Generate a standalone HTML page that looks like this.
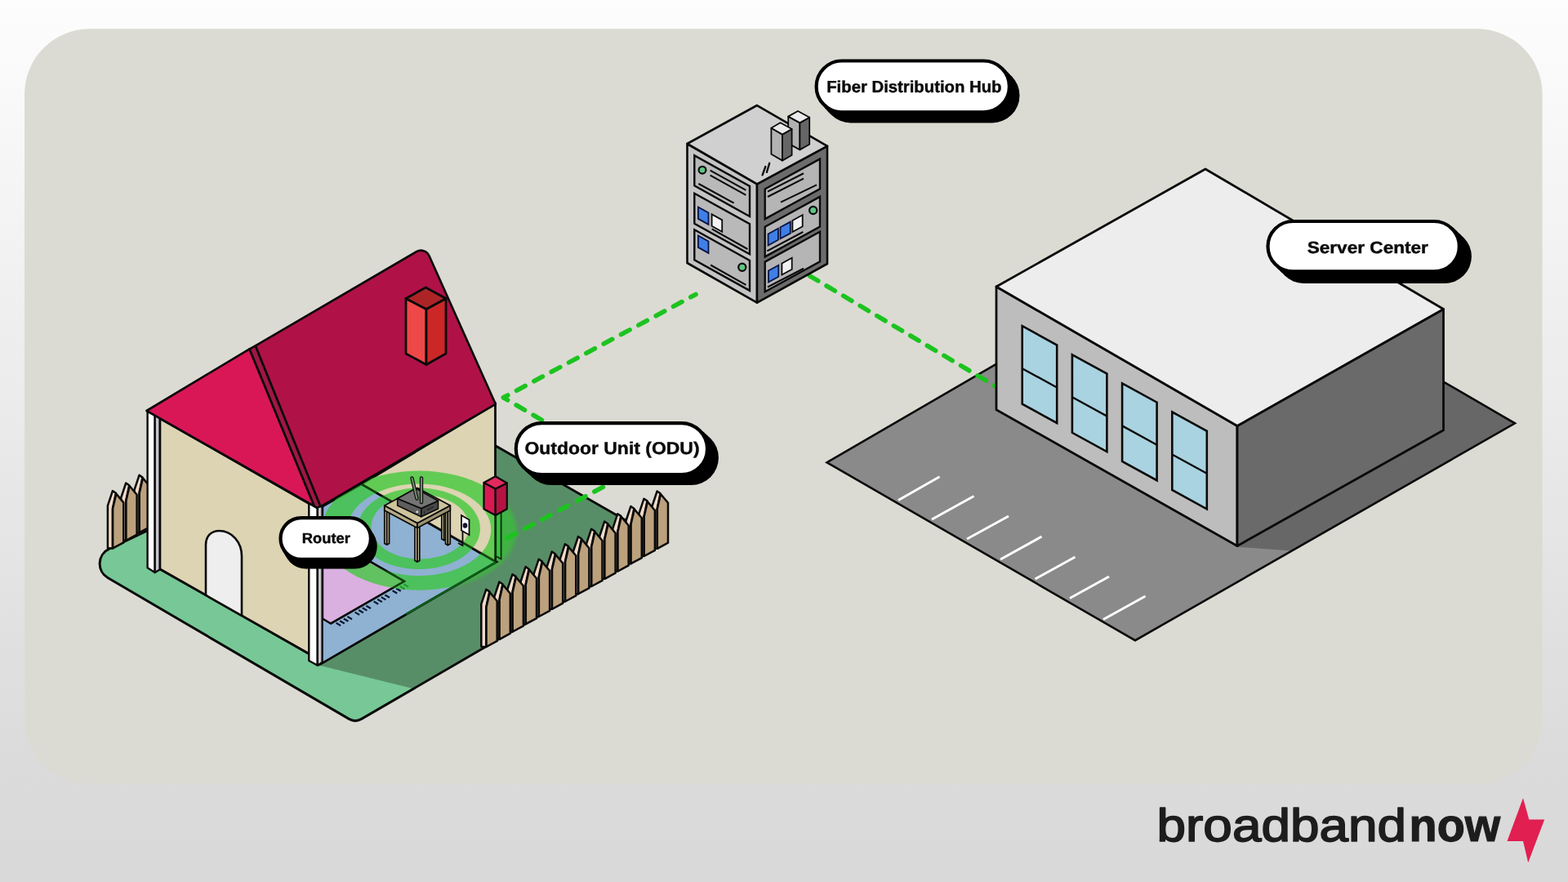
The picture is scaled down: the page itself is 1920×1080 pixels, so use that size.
<!DOCTYPE html>
<html lang="en">
<head>
<meta charset="utf-8">
<title>How fixed wireless internet reaches a home</title>
<style>
html,body{margin:0;padding:0;width:1920px;height:1080px;overflow:hidden;background:#dadada;}
svg{display:block;font-family:"Liberation Sans",sans-serif;}
text{text-rendering:geometricPrecision;will-change:transform;}
</style>
</head>
<body>
<svg width="1920" height="1080" viewBox="0 0 1920 1080">
<defs><linearGradient id="bg" x1="0" y1="0" x2="0" y2="1"><stop offset="0" stop-color="#fdfdfd"/><stop offset="0.86" stop-color="#dbdbdb"/><stop offset="1" stop-color="#d9d9d9"/></linearGradient></defs>
<rect width="1920" height="1080" fill="url(#bg)"/>
<rect x="30" y="35.3" width="1858.6" height="924.7" rx="80" ry="80" fill="#dbdbd3"/>
<polygon points="1012.5,566.3 1475.0,297.6 1855.0,518.3 1390.0,784.2" fill="#8a8a8a" />
<clipPath id="lotclip"><polygon points="1012.5,566.3 1475.0,297.6 1855.0,518.3 1390.0,784.2"/></clipPath>
<g clip-path="url(#lotclip)"><polygon points="1514.0,669.6 1579.0,674.2 1590.0,690.0 1900.0,518.3 1767.5,440.0" fill="#676767" /></g>
<polygon points="1012.5,566.3 1475.0,297.6 1855.0,518.3 1390.0,784.2" fill="none" stroke="#0a0a0a" stroke-width="2.6" stroke-linejoin="miter"/>
<line x1="1100.0" y1="612.5" x2="1150.5" y2="583.8" stroke="#ffffff" stroke-width="3" />
<line x1="1141.0" y1="636.0" x2="1192.5" y2="607.5" stroke="#ffffff" stroke-width="3" />
<line x1="1184.0" y1="660.0" x2="1235.0" y2="632.0" stroke="#ffffff" stroke-width="3" />
<line x1="1225.0" y1="685.0" x2="1275.5" y2="657.0" stroke="#ffffff" stroke-width="3" />
<line x1="1267.5" y1="709.0" x2="1316.5" y2="682.0" stroke="#ffffff" stroke-width="3" />
<line x1="1310.0" y1="732.5" x2="1358.0" y2="706.0" stroke="#ffffff" stroke-width="3" />
<line x1="1351.0" y1="758.5" x2="1402.5" y2="730.0" stroke="#ffffff" stroke-width="3" />
<path d="M991.5,337.8 L1218.5,472.6" fill="none" stroke="#1cc31f" stroke-width="5.6" stroke-linecap="round" stroke-linejoin="round" stroke-dasharray="12 11.9"/>
<polygon points="1220.0,351.0 1515.0,521.5 1515.0,668.5 1220.0,501.7" fill="#bdbdbd" stroke="#0a0a0a" stroke-width="2.8" stroke-linejoin="round"/>
<polygon points="1515.0,521.5 1767.5,378.5 1767.5,526.7 1515.0,668.5" fill="#6a6a6a" stroke="#0a0a0a" stroke-width="2.8" stroke-linejoin="round"/>
<polygon points="1220.0,351.0 1476.0,207.0 1767.5,378.5 1515.0,521.5" fill="#ededed" stroke="#0a0a0a" stroke-width="2.8" stroke-linejoin="round"/>
<polygon points="1251.7,399.2 1294.2,422.5 1294.2,518.0 1251.7,494.7" fill="#a9d3e0" stroke="#0a0a0a" stroke-width="2.6" stroke-linejoin="miter"/>
<line x1="1251.7" y1="451.2" x2="1294.2" y2="474.5" stroke="#0a0a0a" stroke-width="2.4" />
<polygon points="1312.9,434.3 1355.4,457.6 1355.4,553.1 1312.9,529.8" fill="#a9d3e0" stroke="#0a0a0a" stroke-width="2.6" stroke-linejoin="miter"/>
<line x1="1312.9" y1="486.3" x2="1355.4" y2="509.6" stroke="#0a0a0a" stroke-width="2.4" />
<polygon points="1374.1,469.4 1416.6,492.7 1416.6,588.2 1374.1,564.9" fill="#a9d3e0" stroke="#0a0a0a" stroke-width="2.6" stroke-linejoin="miter"/>
<line x1="1374.1" y1="521.4" x2="1416.6" y2="544.7" stroke="#0a0a0a" stroke-width="2.4" />
<polygon points="1435.3,504.5 1477.8,527.8 1477.8,623.3 1435.3,600.0" fill="#a9d3e0" stroke="#0a0a0a" stroke-width="2.6" stroke-linejoin="miter"/>
<line x1="1435.3" y1="556.5" x2="1477.8" y2="579.8" stroke="#0a0a0a" stroke-width="2.4" />
<clipPath id="lawnclip"><path d="M132.0,707.5 A20,20 0 0 1 133.5,672.2 L181.0,649.5 L483.0,475.0 L814.0,664.5 L442.6,880.4 A15,15 0 0 1 427.4,880.4 Z"/></clipPath>
<path d="M132.0,707.5 A20,20 0 0 1 133.5,672.2 L181.0,649.5 L483.0,475.0 L814.0,664.5 L442.6,880.4 A15,15 0 0 1 427.4,880.4 Z" fill="#77c896"/>
<g clip-path="url(#lawnclip)"><polygon points="388.0,814.0 505.0,843.0 830.0,660.0 600.0,530.0 560.0,700.0" fill="#588e67" /></g>
<path d="M132.0,707.5 A20,20 0 0 1 133.5,672.2 L181.0,649.5 L483.0,475.0 L814.0,664.5 L442.6,880.4 A15,15 0 0 1 427.4,880.4 Z" fill="none" stroke="#0a0a0a" stroke-width="3"/>
<polygon points="164.5,651.9 164.5,599.9 170.5,581.9 174.5,584.6 170.5,603.6 170.5,652.2" fill="#f0dac8" stroke="#0a0a0a" stroke-width="2.5" stroke-linejoin="round"/><polygon points="170.7,652.2 170.7,603.6 174.9,585.4 183.9,596.2 183.9,645.1" fill="#bca17d" stroke="#0a0a0a" stroke-width="2.5" stroke-linejoin="round"/>
<polygon points="148.2,661.5 148.2,609.5 154.2,591.5 158.2,594.2 154.2,613.2 154.2,661.8" fill="#f0dac8" stroke="#0a0a0a" stroke-width="2.5" stroke-linejoin="round"/><polygon points="154.4,661.8 154.4,613.2 158.6,595.0 167.6,605.8 167.6,654.7" fill="#bca17d" stroke="#0a0a0a" stroke-width="2.5" stroke-linejoin="round"/>
<polygon points="131.9,671.1 131.9,619.1 137.9,601.1 141.9,603.8 137.9,622.8 137.9,671.4" fill="#f0dac8" stroke="#0a0a0a" stroke-width="2.5" stroke-linejoin="round"/><polygon points="138.1,671.4 138.1,622.8 142.3,604.6 151.3,615.4 151.3,664.3" fill="#bca17d" stroke="#0a0a0a" stroke-width="2.5" stroke-linejoin="round"/>
<path d="M616.5,486.8 L852,360.5" fill="none" stroke="#1cc31f" stroke-width="5.6" stroke-linecap="round" stroke-linejoin="round" stroke-dasharray="12 12.2" stroke-dashoffset="6"/>
<path d="M616.5,486.8 L770,577" fill="none" stroke="#1cc31f" stroke-width="5.6" stroke-linecap="round" stroke-linejoin="round" stroke-dasharray="12 12.2" stroke-dashoffset="6"/>
<defs><filter id="soft" x="-20%" y="-20%" width="140%" height="140%"><feGaussianBlur stdDeviation="2.6"/></filter><clipPath id="inside"><polygon points="392,622 443,593 606.5,494.5 606.5,688 392,813.5"/></clipPath><clipPath id="outside"><polygon points="606.5,560 700,560 700,700 420,800 392,813.5 606.5,688"/></clipPath></defs>
<g clip-path="url(#outside)"><g opacity="0.62" filter="url(#soft)"><path d="M393.5,649.6 a119.5,73 0 1 0 239.0,0 a119.5,73 0 1 0 -239.0,0 Z M425.3,648.8 a88,56.3 0 1 0 176.0,0 a88,56.3 0 1 0 -176.0,0 Z" fill="#34c830" fill-rule="evenodd"/></g></g>
<path d="M772,578.4 L621,659" fill="none" stroke="#1cc31f" stroke-width="5.6" stroke-linecap="round" stroke-linejoin="round" stroke-dasharray="12 12.2" stroke-dashoffset="10.3"/>
<polygon points="395.0,620.0 443.0,593.0 608.0,688.0 392.0,813.5" fill="#8fb1d2" stroke="#0a0a0a" stroke-width="2.6" />
<polygon points="443.0,593.0 606.5,494.5 606.5,688.0" fill="#dcd4b2" stroke="#0a0a0a" stroke-width="2.6" />
<polygon points="395.0,654.0 495.0,711.8 405.0,763.5 395.0,757.5" fill="#dab0e0" stroke="#0a0a0a" stroke-width="2.4" />
<line x1="411.6" y1="762.8" x2="417.2" y2="766.1" stroke="#0a1830" stroke-width="2.2" />
<line x1="416.2" y1="760.2" x2="421.8" y2="763.5" stroke="#0a1830" stroke-width="2.2" />
<line x1="420.8" y1="757.5" x2="426.4" y2="760.8" stroke="#0a1830" stroke-width="2.2" />
<line x1="425.4" y1="754.9" x2="431.0" y2="758.2" stroke="#0a1830" stroke-width="2.2" />
<line x1="434.6" y1="749.6" x2="440.2" y2="752.9" stroke="#0a1830" stroke-width="2.2" />
<line x1="439.2" y1="747.0" x2="444.8" y2="750.3" stroke="#0a1830" stroke-width="2.2" />
<line x1="443.8" y1="744.3" x2="449.4" y2="747.6" stroke="#0a1830" stroke-width="2.2" />
<line x1="448.4" y1="741.7" x2="454.0" y2="745.0" stroke="#0a1830" stroke-width="2.2" />
<line x1="457.6" y1="736.4" x2="463.2" y2="739.7" stroke="#0a1830" stroke-width="2.2" />
<line x1="462.2" y1="733.8" x2="467.8" y2="737.1" stroke="#0a1830" stroke-width="2.2" />
<line x1="466.8" y1="731.1" x2="472.4" y2="734.4" stroke="#0a1830" stroke-width="2.2" />
<line x1="471.4" y1="728.5" x2="477.0" y2="731.8" stroke="#0a1830" stroke-width="2.2" />
<line x1="480.6" y1="723.2" x2="486.2" y2="726.5" stroke="#0a1830" stroke-width="2.2" />
<line x1="485.2" y1="720.5" x2="490.8" y2="723.8" stroke="#0a1830" stroke-width="2.2" />
<line x1="489.8" y1="717.9" x2="495.4" y2="721.2" stroke="#0a1830" stroke-width="2.2" />
<line x1="494.4" y1="715.3" x2="500.0" y2="718.6" stroke="#0a1830" stroke-width="2.2" />
<g clip-path="url(#inside)"><g opacity="0.72"><path d="M393.5,649.6 a119.5,73 0 1 0 239.0,0 a119.5,73 0 1 0 -239.0,0 Z M425.3,648.8 a88,56.3 0 1 0 176.0,0 a88,56.3 0 1 0 -176.0,0 Z" fill="#34c830" fill-rule="evenodd"/><path d="M438.0,647.3 a75,49.8 0 1 0 150.0,0 a75,49.8 0 1 0 -150.0,0 Z M454.5,645 a60,39.5 0 1 0 120.0,0 a60,39.5 0 1 0 -120.0,0 Z" fill="#34c830" fill-rule="evenodd"/></g></g>
<g opacity="0.55" fill="none" stroke="#000" stroke-width="2.6"><path d="M443,593 L608,688 L392,813.5"/><path d="M606.5,494.5 L606.5,688"/><path d="M395,654 L495,711.8 L405,763.5"/></g>
<path d="M607.5,688.4 L497,752.2" fill="none" stroke="#0e5c1b" stroke-width="2.6"/>
<polygon points="565.0,631.0 574.5,636.5 574.5,655.0 565.0,649.5" fill="#ffffff" stroke="#0a0a0a" stroke-width="1.8" />
<ellipse cx="569.5" cy="643.5" rx="2.8" ry="3.2" fill="#14142a"/>
<path d="M566.5,650 L566.5,668 L561,665" fill="none" stroke="#0a0a0a" stroke-width="1.8"/>
<polygon points="540.8,628.0 543.7,629.5 543.7,661.5 540.8,660.0" fill="#d6cfaa" stroke="#0a0a0a" stroke-width="1.7" stroke-linejoin="round"/><polygon points="543.7,629.5 546.6,628.0 546.6,660.0 543.7,661.5" fill="#c3b894" stroke="#0a0a0a" stroke-width="1.7" stroke-linejoin="round"/>
<polygon points="470.8,622.0 473.7,623.5 473.7,667.0 470.8,665.5" fill="#d6cfaa" stroke="#0a0a0a" stroke-width="1.7" stroke-linejoin="round"/><polygon points="473.7,623.5 476.6,622.0 476.6,665.5 473.7,667.0" fill="#c3b894" stroke="#0a0a0a" stroke-width="1.7" stroke-linejoin="round"/>
<polygon points="545.5,622.0 548.4,623.5 548.4,667.5 545.5,666.0" fill="#d6cfaa" stroke="#0a0a0a" stroke-width="1.7" stroke-linejoin="round"/><polygon points="548.4,623.5 551.3,622.0 551.3,666.0 548.4,667.5" fill="#c3b894" stroke="#0a0a0a" stroke-width="1.7" stroke-linejoin="round"/>
<polygon points="508.0,643.0 510.9,644.5 510.9,688.0 508.0,686.5" fill="#d6cfaa" stroke="#0a0a0a" stroke-width="1.7" stroke-linejoin="round"/><polygon points="510.9,644.5 513.8,643.0 513.8,686.5 510.9,688.0" fill="#c3b894" stroke="#0a0a0a" stroke-width="1.7" stroke-linejoin="round"/>
<polygon points="470.8,619.0 511.0,640.5 511.0,646.5 470.8,625.0" fill="#b7ab86" stroke="#0a0a0a" stroke-width="1.8" stroke-linejoin="round"/>
<polygon points="511.0,640.5 551.3,619.0 551.3,625.0 511.0,646.5" fill="#9d9170" stroke="#0a0a0a" stroke-width="1.8" stroke-linejoin="round"/>
<polygon points="470.8,619.0 511.0,597.5 551.3,619.0 511.0,640.5" fill="#cdc39c" stroke="#0a0a0a" stroke-width="1.8" stroke-linejoin="round"/>
<polygon points="486.7,610.5 515.8,622.5 515.8,632.8 486.7,619.0" fill="#5e5e5e" stroke="#0a0a0a" stroke-width="1.6" stroke-linejoin="round"/>
<polygon points="515.8,622.5 536.5,613.3 536.5,623.0 515.8,632.8" fill="#474747" stroke="#0a0a0a" stroke-width="1.6" stroke-linejoin="round"/>
<polygon points="486.7,610.5 509.0,598.0 536.5,613.3 515.8,622.5" fill="#747474" stroke="#0a0a0a" stroke-width="1.6" stroke-linejoin="round"/>
<circle cx="510.8" cy="626.8" r="1.4" fill="#d8e0e0"/>
<line x1="519.5" y1="625.5" x2="519.5" y2="629.5" stroke="#222" stroke-width="1" />
<line x1="523.0" y1="624.5" x2="531.0" y2="620.5" stroke="#2a2a2a" stroke-width="1.6" />
<line x1="510.5" y1="610.5" x2="504.5" y2="585.5" stroke="#0a0a0a" stroke-width="4.4" stroke-linecap="round"/>
<line x1="510.5" y1="610.5" x2="504.5" y2="585.5" stroke="#6d8a6a" stroke-width="2.2" stroke-linecap="round"/>
<line x1="516.0" y1="615.0" x2="516.0" y2="585.5" stroke="#0a0a0a" stroke-width="4.4" stroke-linecap="round"/>
<line x1="516.0" y1="615.0" x2="516.0" y2="585.5" stroke="#6d8a6a" stroke-width="2.2" stroke-linecap="round"/>
<path d="M607.2,628 L607.2,681 L613.6,684.5 L613.6,628" fill="#39c23f" stroke="#0c2a10" stroke-width="1.8"/>
<polygon points="592.5,591.0 606.7,598.5 606.7,631.0 592.5,623.3" fill="#d81a52" stroke="#0a0a0a" stroke-width="2.2" stroke-linejoin="round"/>
<polygon points="606.7,598.5 620.8,591.5 620.8,623.3 606.7,631.0" fill="#b51443" stroke="#0a0a0a" stroke-width="2.2" stroke-linejoin="round"/>
<polygon points="592.5,591.0 606.7,583.3 620.8,591.5 606.7,598.5" fill="#e12a5e" stroke="#0a0a0a" stroke-width="2.2" stroke-linejoin="round"/>
<polygon points="196.0,512.5 379.0,617.0 379.0,801.0 196.0,697.0" fill="#dcd4b3" stroke="#0a0a0a" stroke-width="2.6" />
<path d="M252,728.6 V667 C252,656 259,650 268.5,650 C284,650 296,664 296,681 V753.6" fill="#eeeeee" stroke="#0a0a0a" stroke-width="2.6" stroke-linejoin="round"/>
<line x1="196.0" y1="697.0" x2="379.0" y2="801.0" stroke="#0a0a0a" stroke-width="2.6" />
<polygon points="180.6,504.0 189.7,508.0 189.7,701.0 180.6,695.3" fill="#ffffff" stroke="#0a0a0a" stroke-width="2.4" stroke-linejoin="round"/><polygon points="189.7,508.0 195.6,506.0 195.6,697.5 189.7,701.0" fill="#c9c6cf" stroke="#0a0a0a" stroke-width="2.4" stroke-linejoin="round"/>
<polygon points="378.3,615.0 388.8,619.0 388.8,814.8 378.3,809.0" fill="#ffffff" stroke="#0a0a0a" stroke-width="2.4" stroke-linejoin="round"/><polygon points="388.8,619.0 394.6,617.0 394.6,811.0 388.8,814.8" fill="#c9c6cf" stroke="#0a0a0a" stroke-width="2.4" stroke-linejoin="round"/>
<polygon points="179.5,503.0 305.5,427.3 385.0,620.0" fill="#d91757" stroke="#0a0a0a" stroke-width="2.7" stroke-linejoin="round"/>
<polygon points="305.5,427.3 312.8,423.3 392.5,619.5 388.5,622.0 385.0,620.0" fill="#9f1646" stroke="#0a0a0a" stroke-width="2.6" stroke-linejoin="round"/>
<path d="M312.8,423.3 L509.9,308.2 A11,11 0 0 1 525.5,313.2 L606.8,494.8 L392.5,620.3 Z" fill="#b01248" stroke="#0a0a0a" stroke-width="2.7" stroke-linejoin="round"/>
<polygon points="497.0,365.5 522.0,378.5 522.0,446.5 497.0,433.0" fill="#ee4848" stroke="#0a0a0a" stroke-width="2.8" stroke-linejoin="round"/>
<polygon points="522.0,378.5 546.0,365.5 546.0,433.0 522.0,446.5" fill="#cb2727" stroke="#0a0a0a" stroke-width="2.8" stroke-linejoin="round"/>
<polygon points="497.0,365.5 521.3,352.0 546.0,365.5 522.0,378.5" fill="#ad2427" stroke="#0a0a0a" stroke-width="2.8" stroke-linejoin="round"/>
<polygon points="798.6,671.5 798.6,619.5 804.6,601.5 808.6,604.2 804.6,623.2 804.6,671.8" fill="#f0dac8" stroke="#0a0a0a" stroke-width="2.5" stroke-linejoin="round"/><polygon points="804.8,671.8 804.8,623.2 809.0,605.0 818.0,615.8 818.0,664.7" fill="#bca17d" stroke="#0a0a0a" stroke-width="2.5" stroke-linejoin="round"/>
<polygon points="782.5,680.7 782.5,628.7 788.5,610.7 792.5,613.4 788.5,632.4 788.5,681.0" fill="#f0dac8" stroke="#0a0a0a" stroke-width="2.5" stroke-linejoin="round"/><polygon points="788.7,681.0 788.7,632.4 792.9,614.2 801.9,625.0 801.9,673.9" fill="#bca17d" stroke="#0a0a0a" stroke-width="2.5" stroke-linejoin="round"/>
<polygon points="766.4,690.0 766.4,638.0 772.4,620.0 776.4,622.7 772.4,641.7 772.4,690.2" fill="#f0dac8" stroke="#0a0a0a" stroke-width="2.5" stroke-linejoin="round"/><polygon points="772.6,690.2 772.6,641.7 776.8,623.5 785.8,634.2 785.8,683.2" fill="#bca17d" stroke="#0a0a0a" stroke-width="2.5" stroke-linejoin="round"/>
<polygon points="750.3,699.2 750.3,647.2 756.3,629.2 760.3,631.9 756.3,650.9 756.3,699.5" fill="#f0dac8" stroke="#0a0a0a" stroke-width="2.5" stroke-linejoin="round"/><polygon points="756.5,699.5 756.5,650.9 760.7,632.7 769.7,643.5 769.7,692.4" fill="#bca17d" stroke="#0a0a0a" stroke-width="2.5" stroke-linejoin="round"/>
<polygon points="734.2,708.5 734.2,656.5 740.2,638.5 744.2,641.2 740.2,660.2 740.2,708.8" fill="#f0dac8" stroke="#0a0a0a" stroke-width="2.5" stroke-linejoin="round"/><polygon points="740.4,708.8 740.4,660.2 744.6,642.0 753.6,652.8 753.6,701.7" fill="#bca17d" stroke="#0a0a0a" stroke-width="2.5" stroke-linejoin="round"/>
<polygon points="718.1,717.7 718.1,665.7 724.1,647.7 728.1,650.4 724.1,669.4 724.1,718.0" fill="#f0dac8" stroke="#0a0a0a" stroke-width="2.5" stroke-linejoin="round"/><polygon points="724.3,718.0 724.3,669.4 728.5,651.2 737.5,662.0 737.5,710.9" fill="#bca17d" stroke="#0a0a0a" stroke-width="2.5" stroke-linejoin="round"/>
<polygon points="702.0,727.0 702.0,675.0 708.0,657.0 712.0,659.7 708.0,678.7 708.0,727.2" fill="#f0dac8" stroke="#0a0a0a" stroke-width="2.5" stroke-linejoin="round"/><polygon points="708.2,727.2 708.2,678.7 712.4,660.5 721.4,671.2 721.4,720.2" fill="#bca17d" stroke="#0a0a0a" stroke-width="2.5" stroke-linejoin="round"/>
<polygon points="685.9,736.2 685.9,684.2 691.9,666.2 695.9,668.9 691.9,687.9 691.9,736.5" fill="#f0dac8" stroke="#0a0a0a" stroke-width="2.5" stroke-linejoin="round"/><polygon points="692.1,736.5 692.1,687.9 696.3,669.7 705.3,680.5 705.3,729.4" fill="#bca17d" stroke="#0a0a0a" stroke-width="2.5" stroke-linejoin="round"/>
<polygon points="669.8,745.5 669.8,693.5 675.8,675.5 679.8,678.2 675.8,697.2 675.8,745.8" fill="#f0dac8" stroke="#0a0a0a" stroke-width="2.5" stroke-linejoin="round"/><polygon points="676.0,745.8 676.0,697.2 680.2,679.0 689.2,689.8 689.2,738.7" fill="#bca17d" stroke="#0a0a0a" stroke-width="2.5" stroke-linejoin="round"/>
<polygon points="653.7,754.7 653.7,702.7 659.7,684.7 663.7,687.4 659.7,706.4 659.7,755.0" fill="#f0dac8" stroke="#0a0a0a" stroke-width="2.5" stroke-linejoin="round"/><polygon points="659.9,755.0 659.9,706.4 664.1,688.2 673.1,699.0 673.1,747.9" fill="#bca17d" stroke="#0a0a0a" stroke-width="2.5" stroke-linejoin="round"/>
<polygon points="637.6,764.0 637.6,712.0 643.6,694.0 647.6,696.7 643.6,715.7 643.6,764.2" fill="#f0dac8" stroke="#0a0a0a" stroke-width="2.5" stroke-linejoin="round"/><polygon points="643.8,764.2 643.8,715.7 648.0,697.5 657.0,708.2 657.0,757.2" fill="#bca17d" stroke="#0a0a0a" stroke-width="2.5" stroke-linejoin="round"/>
<polygon points="621.5,773.2 621.5,721.2 627.5,703.2 631.5,705.9 627.5,724.9 627.5,773.5" fill="#f0dac8" stroke="#0a0a0a" stroke-width="2.5" stroke-linejoin="round"/><polygon points="627.7,773.5 627.7,724.9 631.9,706.7 640.9,717.5 640.9,766.4" fill="#bca17d" stroke="#0a0a0a" stroke-width="2.5" stroke-linejoin="round"/>
<polygon points="605.4,782.5 605.4,730.5 611.4,712.5 615.4,715.2 611.4,734.2 611.4,782.8" fill="#f0dac8" stroke="#0a0a0a" stroke-width="2.5" stroke-linejoin="round"/><polygon points="611.6,782.8 611.6,734.2 615.8,716.0 624.8,726.8 624.8,775.7" fill="#bca17d" stroke="#0a0a0a" stroke-width="2.5" stroke-linejoin="round"/>
<polygon points="589.3,791.7 589.3,739.7 595.3,721.7 599.3,724.4 595.3,743.4 595.3,792.0" fill="#f0dac8" stroke="#0a0a0a" stroke-width="2.5" stroke-linejoin="round"/><polygon points="595.5,792.0 595.5,743.4 599.7,725.2 608.7,736.0 608.7,784.9" fill="#bca17d" stroke="#0a0a0a" stroke-width="2.5" stroke-linejoin="round"/>
<polygon points="841.5,176.0 927.0,225.3 927.0,370.7 841.5,322.0" fill="#c4c4c4" stroke="#0a0a0a" stroke-width="2.6" stroke-linejoin="round"/>
<polygon points="927.0,225.3 1013.0,178.8 1013.0,323.0 927.0,370.7" fill="#6c6c6c" stroke="#0a0a0a" stroke-width="2.6" stroke-linejoin="round"/>
<polygon points="841.5,176.0 927.0,129.0 1013.0,178.8 927.0,225.3" fill="#d0d0d0" stroke="#0a0a0a" stroke-width="2.6" stroke-linejoin="round"/>
<polygon points="850.3,190.4 918.0,228.0 918.0,265.0 850.3,227.4" fill="#b9b9b9" stroke="#0a0a0a" stroke-width="2.4" />
<polygon points="850.3,236.7 918.0,274.3 918.0,311.3 850.3,273.7" fill="#b9b9b9" stroke="#0a0a0a" stroke-width="2.4" />
<polygon points="850.3,281.3 918.0,318.9 918.0,355.9 850.3,318.3" fill="#b9b9b9" stroke="#0a0a0a" stroke-width="2.4" />
<circle cx="860" cy="208.2" r="4.4" fill="#5ec684" stroke="#0a0a0a" stroke-width="2.2"/>
<line x1="869.6" y1="208.7" x2="913.4" y2="232.8" stroke="#0a0a0a" stroke-width="2.1" />
<line x1="869.6" y1="214.6" x2="913.4" y2="238.8" stroke="#0a0a0a" stroke-width="2.1" />
<line x1="855.4" y1="225.0" x2="898.6" y2="248.6" stroke="#0a0a0a" stroke-width="2.1" />
<polygon points="854.9,253.5 867.5,260.5 867.5,274.9 854.9,267.9" fill="#3f7fe6" stroke="#0a1440" stroke-width="1.8" />
<polygon points="871.6,262.4 884.2,269.4 884.2,283.8 871.6,276.8" fill="#f2f2f2" stroke="#0a0a0a" stroke-width="1.8" />
<line x1="871.7" y1="280.4" x2="915.4" y2="305.0" stroke="#0a0a0a" stroke-width="2.1" />
<polygon points="854.9,288.5 867.5,295.5 867.5,309.9 854.9,302.9" fill="#3f7fe6" stroke="#0a1440" stroke-width="1.8" />
<circle cx="908.8" cy="327.2" r="4.6" fill="#5ec684" stroke="#0a0a0a" stroke-width="2.2"/>
<line x1="870.1" y1="324.5" x2="913.4" y2="348.9" stroke="#0a0a0a" stroke-width="2.1" />
<polygon points="936.7,231.5 1004.0,194.6 1004.0,231.2 936.7,268.1" fill="#b5b5b5" stroke="#0a0a0a" stroke-width="2.4" />
<polygon points="936.7,277.8 1004.0,240.9 1004.0,277.5 936.7,314.4" fill="#b5b5b5" stroke="#0a0a0a" stroke-width="2.4" />
<polygon points="936.7,320.6 1004.0,283.7 1004.0,320.3 936.7,357.2" fill="#b5b5b5" stroke="#0a0a0a" stroke-width="2.4" />
<line x1="940.0" y1="234.6" x2="984.0" y2="212.2" stroke="#0a0a0a" stroke-width="2.1" />
<line x1="940.0" y1="241.0" x2="984.0" y2="218.6" stroke="#0a0a0a" stroke-width="2.1" />
<line x1="956.0" y1="247.6" x2="1000.0" y2="226.4" stroke="#0a0a0a" stroke-width="2.1" />
<circle cx="995.7" cy="257.5" r="4.6" fill="#5ec684" stroke="#0a0a0a" stroke-width="2.2"/>
<polygon points="940.6,286.5 952.9,279.8 952.9,293.8 940.6,300.5" fill="#3f7fe6" stroke="#0a1440" stroke-width="1.8" />
<polygon points="955.5,278.3 967.8,271.6 967.8,285.6 955.5,292.3" fill="#3f7fe6" stroke="#0a1440" stroke-width="1.8" />
<polygon points="970.4,270.0 982.7,263.3 982.7,277.3 970.4,284.0" fill="#f2f2f2" stroke="#0a0a0a" stroke-width="1.8" />
<line x1="939.3" y1="307.4" x2="983.3" y2="284.0" stroke="#0a0a0a" stroke-width="2.1" />
<polygon points="941.0,331.5 953.3,324.8 953.3,338.8 941.0,345.5" fill="#3f7fe6" stroke="#0a1440" stroke-width="1.8" />
<polygon points="957.4,322.5 969.7,315.8 969.7,329.8 957.4,336.5" fill="#f2f2f2" stroke="#0a0a0a" stroke-width="1.8" />
<line x1="940.0" y1="351.5" x2="984.0" y2="328.8" stroke="#0a0a0a" stroke-width="2.1" />
<polygon points="965.2,142.6 979.4,150.4 979.4,183.4 965.2,175.6" fill="#b2b2b2" stroke="#0a0a0a" stroke-width="1.8" stroke-linejoin="round"/><polygon points="979.4,150.4 991.2,143.8 991.2,176.8 979.4,183.4" fill="#666666" stroke="#0a0a0a" stroke-width="1.8" stroke-linejoin="round"/><polygon points="965.2,142.6 977.0,136.0 991.2,143.8 979.4,150.4" fill="#ebebeb" stroke="#0a0a0a" stroke-width="1.8" stroke-linejoin="round"/>
<polygon points="944.4,156.8 958.0,164.6 958.0,196.6 944.4,188.8" fill="#b2b2b2" stroke="#0a0a0a" stroke-width="1.8" stroke-linejoin="round"/><polygon points="958.0,164.6 969.6,158.0 969.6,190.0 958.0,196.6" fill="#666666" stroke="#0a0a0a" stroke-width="1.8" stroke-linejoin="round"/><polygon points="944.4,156.8 955.5,150.2 969.6,158.0 958.0,164.6" fill="#ebebeb" stroke="#0a0a0a" stroke-width="1.8" stroke-linejoin="round"/>
<line x1="937.3" y1="204.0" x2="933.6" y2="214.3" stroke="#0a0a0a" stroke-width="2.3" stroke-linecap="round"/>
<line x1="942.2" y1="199.8" x2="938.9" y2="210.8" stroke="#0a0a0a" stroke-width="2.3" stroke-linecap="round"/>
<rect x="1008.0" y="83.4" width="240.5" height="67" rx="33.5" fill="#000"/><rect x="1004.4" y="79.7" width="240.5" height="67" rx="33.5" fill="#000"/><rect x="1001.0" y="76.0" width="240.5" height="67" rx="33.5" fill="#000"/><rect x="999.6" y="74.5" width="236.3" height="62.8" rx="31.4" fill="#fff" stroke="#000" stroke-width="4.2"/><text x="1012.2" y="112.6" font-size="20.2" font-weight="700" fill="#0b0b0b" stroke="#0b0b0b" stroke-width="0.45" stroke-linejoin="round" textLength="214.3" lengthAdjust="spacingAndGlyphs">Fiber Distribution Hub</text>
<rect x="1563.4" y="281.3" width="238.5" height="65.6" rx="32.8" fill="#000"/><rect x="1559.0" y="277.1" width="238.5" height="65.6" rx="32.8" fill="#000"/><rect x="1554.7" y="273.0" width="238.5" height="65.6" rx="32.8" fill="#000"/><rect x="1552.5" y="271.0" width="234.3" height="61.4" rx="30.7" fill="#fff" stroke="#000" stroke-width="4.2"/><text x="1600.7" y="310.3" font-size="20.6" font-weight="700" fill="#0b0b0b" stroke="#0b0b0b" stroke-width="0.45" stroke-linejoin="round" textLength="148.2" lengthAdjust="spacingAndGlyphs">Server Center</text>
<rect x="641.5" y="526.8" width="238.4" height="67.3" rx="33.65" fill="#000"/><rect x="637.5" y="523.1" width="238.4" height="67.3" rx="33.65" fill="#000"/><rect x="633.6" y="519.6" width="238.4" height="67.3" rx="33.65" fill="#000"/><rect x="631.8" y="518.1" width="234.2" height="63.1" rx="31.5" fill="#fff" stroke="#000" stroke-width="4.2"/><text x="642.4" y="556.2" font-size="21.2" font-weight="700" fill="#0b0b0b" stroke="#0b0b0b" stroke-width="0.45" stroke-linejoin="round" textLength="214.2" lengthAdjust="spacingAndGlyphs">Outdoor Unit (ODU)</text>
<rect x="347.2" y="641.5" width="114.6" height="55" rx="27.5" fill="#000"/><rect x="345.2" y="638.3" width="114.6" height="55" rx="27.5" fill="#000"/><rect x="343.3" y="635.1" width="114.6" height="55" rx="27.5" fill="#000"/><rect x="343.5" y="634.1" width="110.4" height="50.8" rx="25.4" fill="#fff" stroke="#000" stroke-width="4.2"/><text x="369.8" y="665.3" font-size="17.6" font-weight="700" fill="#0b0b0b" stroke="#0b0b0b" stroke-width="0.45" stroke-linejoin="round" textLength="59.2" lengthAdjust="spacingAndGlyphs">Router</text>
<text x="1416.6" y="1029.8" font-size="56.5" fill="#1d1d1d" stroke="#1d1d1d" stroke-width="1.7" stroke-linejoin="round" textLength="305.4" lengthAdjust="spacingAndGlyphs">broadband</text>
<text x="1725.6" y="1029.8" font-size="56.5" font-weight="700" fill="#1d1d1d" stroke="#1d1d1d" stroke-width="1.2" stroke-linejoin="round" textLength="111.6" lengthAdjust="spacingAndGlyphs">now</text>
<polygon points="1865.0,977.2 1872.3,1003.4 1891.2,1003.4 1871.2,1056.2 1865.0,1030.0 1845.5,1030.0" fill="#e11f51" />
</svg>
</body>
</html>
